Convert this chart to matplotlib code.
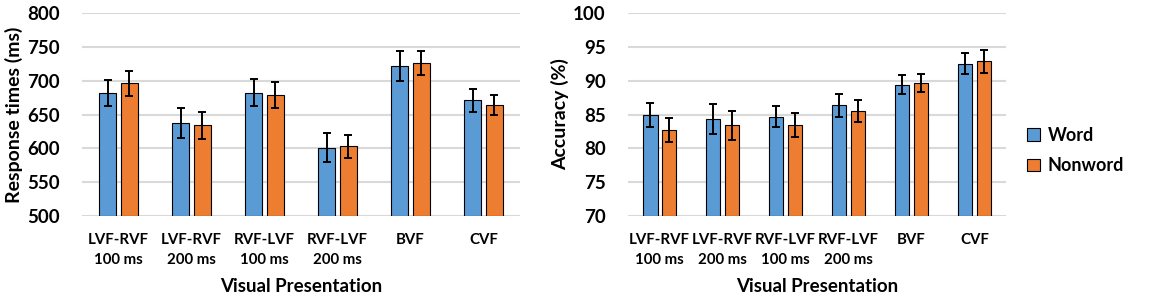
import matplotlib.pyplot as plt
import numpy as np

plt.rcParams['font.family'] = ['Lato', 'DejaVu Sans']
plt.rcParams['font.weight'] = 'bold'

categories = ['LVF-RVF\n100 ms', 'LVF-RVF\n200 ms', 'RVF-LVF\n100 ms', 'RVF-LVF\n200 ms', 'BVF', 'CVF']

# response times (ms)
rt_word = [682, 637, 682, 601, 722, 671]
rt_word_err = [19, 22, 20, 21, 22, 17]
rt_nonword = [696, 634, 679, 603, 726, 664]
rt_nonword_err = [19, 20, 19, 17, 18, 15]

# accuracy (%)
acc_word = [84.9, 84.3, 84.7, 86.4, 89.4, 92.5]
acc_word_err = [1.8, 2.2, 1.5, 1.7, 1.4, 1.55]
acc_nonword = [82.7, 83.4, 83.5, 85.5, 89.7, 92.9]
acc_nonword_err = [1.75, 2.1, 1.75, 1.6, 1.35, 1.7]

blue = '#5B9BD5'
orange = '#ED7D31'
grid_col = '#D9D9D9'


def bar_panel(ax, word, word_err, nonword, nonword_err, ylim, step, ylabel):
    x = np.arange(len(categories))
    w = 0.235
    off = 0.15
    err_kw = dict(ecolor='black', elinewidth=1.4, capsize=3, capthick=1.4)
    ax.bar(x - off, np.array(word) - ylim[0], w, bottom=ylim[0], color=blue,
           edgecolor='black', linewidth=0.8, yerr=word_err, error_kw=err_kw,
           label='Word', zorder=3)
    ax.bar(x + off, np.array(nonword) - ylim[0], w, bottom=ylim[0], color=orange,
           edgecolor='black', linewidth=0.8, yerr=nonword_err, error_kw=err_kw,
           label='Nonword', zorder=3)
    ax.set_xlim(-0.5, len(categories) - 0.5)
    ax.set_ylim(*ylim)
    ax.set_yticks(np.arange(ylim[0], ylim[1] + step / 2, step))
    ax.set_xticks(x)
    ax.set_xticklabels(categories, fontsize=10.8, linespacing=1.6)
    ax.yaxis.grid(True, color=grid_col, linewidth=1.5, zorder=0)
    ax.set_axisbelow(True)
    for s in ax.spines.values():
        s.set_visible(False)
    ax.tick_params(axis='both', length=0)
    ax.tick_params(axis='y', labelsize=13.5, pad=16)
    ax.tick_params(axis='x', pad=12)
    ax.set_ylabel(ylabel, fontsize=14, fontweight='bold', labelpad=3)
    ax.set_xlabel('Visual Presentation', fontsize=13.5, fontweight='bold', labelpad=8)


fig = plt.figure(figsize=(11.7, 3.04), dpi=100)
ax1 = fig.add_axes([0.0701, 0.2895, 0.3743, 0.6675])
ax2 = fig.add_axes([0.5368, 0.2895, 0.3230, 0.6675])

bar_panel(ax1, rt_word, rt_word_err, rt_nonword, rt_nonword_err, (500, 800), 50,
          'Response times (ms)')
bar_panel(ax2, acc_word, acc_word_err, acc_nonword, acc_nonword_err, (70, 100), 5,
          'Accuracy (%)')

handles, labels = ax2.get_legend_handles_labels()
fig.legend(handles, labels, loc='center left', bbox_to_anchor=(0.864, 0.505),
           frameon=False, fontsize=13, handlelength=0.7, handleheight=0.7,
           handletextpad=0.45, labelspacing=0.75)

fig.savefig('out.png', dpi=100)
